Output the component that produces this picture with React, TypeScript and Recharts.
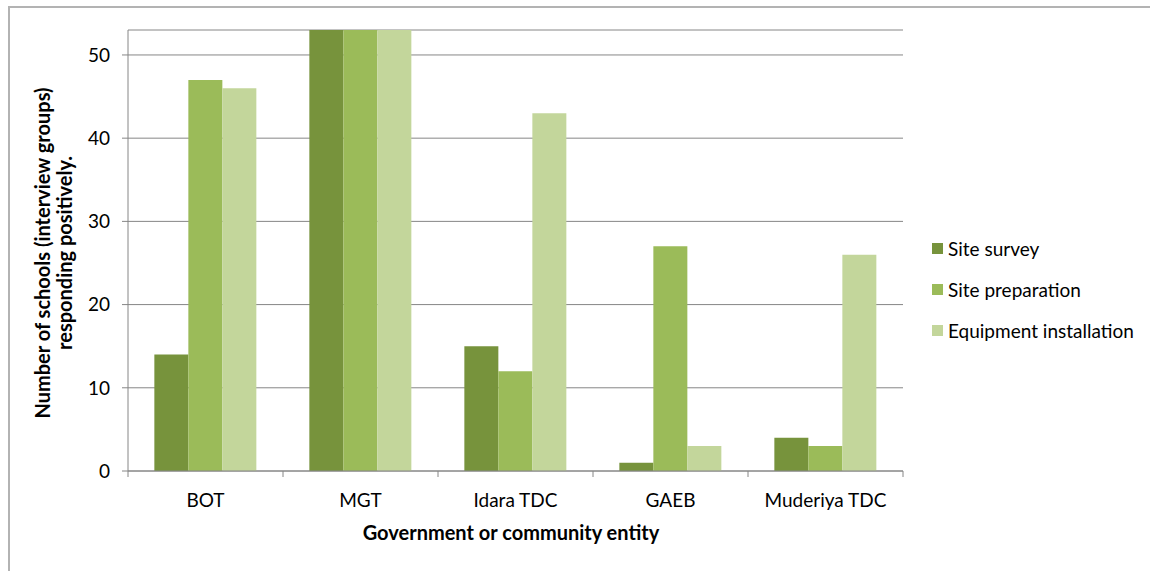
import { BarChart, Bar, XAxis, YAxis, CartesianGrid } from 'recharts';

const entities = ['BOT', 'MGT', 'Idara TDC', 'GAEB', 'Muderiya TDC'];
const siteSurvey = [14, 53, 15, 1, 4];
const sitePreparation = [47, 53, 12, 27, 3];
const equipmentInstallation = [46, 53, 43, 3, 26];
const yTicks = [0, 10, 20, 30, 40, 50];

const series = [
  { key: 'survey', name: 'Site survey', color: '#77933C' },
  { key: 'prep', name: 'Site preparation', color: '#9BBB59' },
  { key: 'equip', name: 'Equipment installation', color: '#C3D69B' },
];

const data = entities.map((name, i) => ({
  name,
  survey: siteSurvey[i],
  prep: sitePreparation[i],
  equip: equipmentInstallation[i],
}));

const FONT = 'Lato, "Open Sans", sans-serif';

const XTick = (props: any) => {
  const { x, y, payload } = props;
  const half = 77.5;
  return (
    <g>
      <line x1={x + half} x2={x + half} y1={y - 8} y2={y - 2} stroke="#868686" />
      {payload.index === 0 && (
        <line x1={x - half} x2={x - half} y1={y - 8} y2={y - 2} stroke="#868686" />
      )}
      <text x={x} y={y + 28} textAnchor="middle" fontSize={19} fill="#000" fontFamily={FONT}>
        {payload.value}
      </text>
    </g>
  );
};

export default function App() {
  return (
    <div
      style={{
        position: 'absolute',
        left: 0,
        top: 0,
        width: 1150,
        height: 571,
        background: '#fff',
        fontFamily: FONT,
        overflow: 'hidden',
      }}
    >
      <div
        style={{
          position: 'absolute',
          left: 8,
          top: 6,
          width: 1160,
          height: 580,
          borderTop: '2px solid #b3b3b3',
          borderLeft: '2px solid #b3b3b3',
        }}
      />
      <BarChart
        width={1150}
        height={571}
        data={data}
        margin={{ top: 30, right: 247, bottom: 70, left: 0 }}
        barCategoryGap="17%"
        barGap={0}
      >
        <CartesianGrid vertical={false} stroke="#868686" />
        <XAxis
          dataKey="name"
          axisLine={{ stroke: '#868686' }}
          tickLine={false}
          tick={<XTick />}
          interval={0}
        />
        <YAxis
          width={128}
          domain={[0, 53]}
          ticks={yTicks}
          allowDataOverflow
          axisLine={{ stroke: '#868686' }}
          tickLine={{ stroke: '#868686' }}
          tickSize={6}
          tickMargin={12}
          tick={{ fontSize: 19, fill: '#000', fontFamily: FONT }}
        />
        {series.map((s) => (
          <Bar key={s.key} dataKey={s.key} name={s.name} fill={s.color} isAnimationActive={false} />
        ))}
        <text
          transform="translate(50 253) rotate(-90)"
          textAnchor="middle"
          fontSize={20}
          fontWeight="bold"
          fontFamily={FONT}
        >
          <tspan x={0} dy={0}>Number of schools (interview groups)</tspan>
          <tspan x={0} dy={22}>responding positively.</tspan>
        </text>
        <text x={511} y={540} textAnchor="middle" fontSize={20} fontWeight="bold" fontFamily={FONT}>
          Government or community entity
        </text>
      </BarChart>
      <div
        style={{
          position: 'absolute',
          left: 932,
          top: 228,
          fontFamily: FONT,
          fontSize: 19,
          color: '#000',
        }}
      >
        {series.map((s) => (
          <div key={s.key} style={{ display: 'flex', alignItems: 'center', height: 41 }}>
            <span style={{ width: 11, height: 11, background: s.color, marginRight: 5 }} />
            {s.name}
          </div>
        ))}
      </div>
    </div>
  );
}
